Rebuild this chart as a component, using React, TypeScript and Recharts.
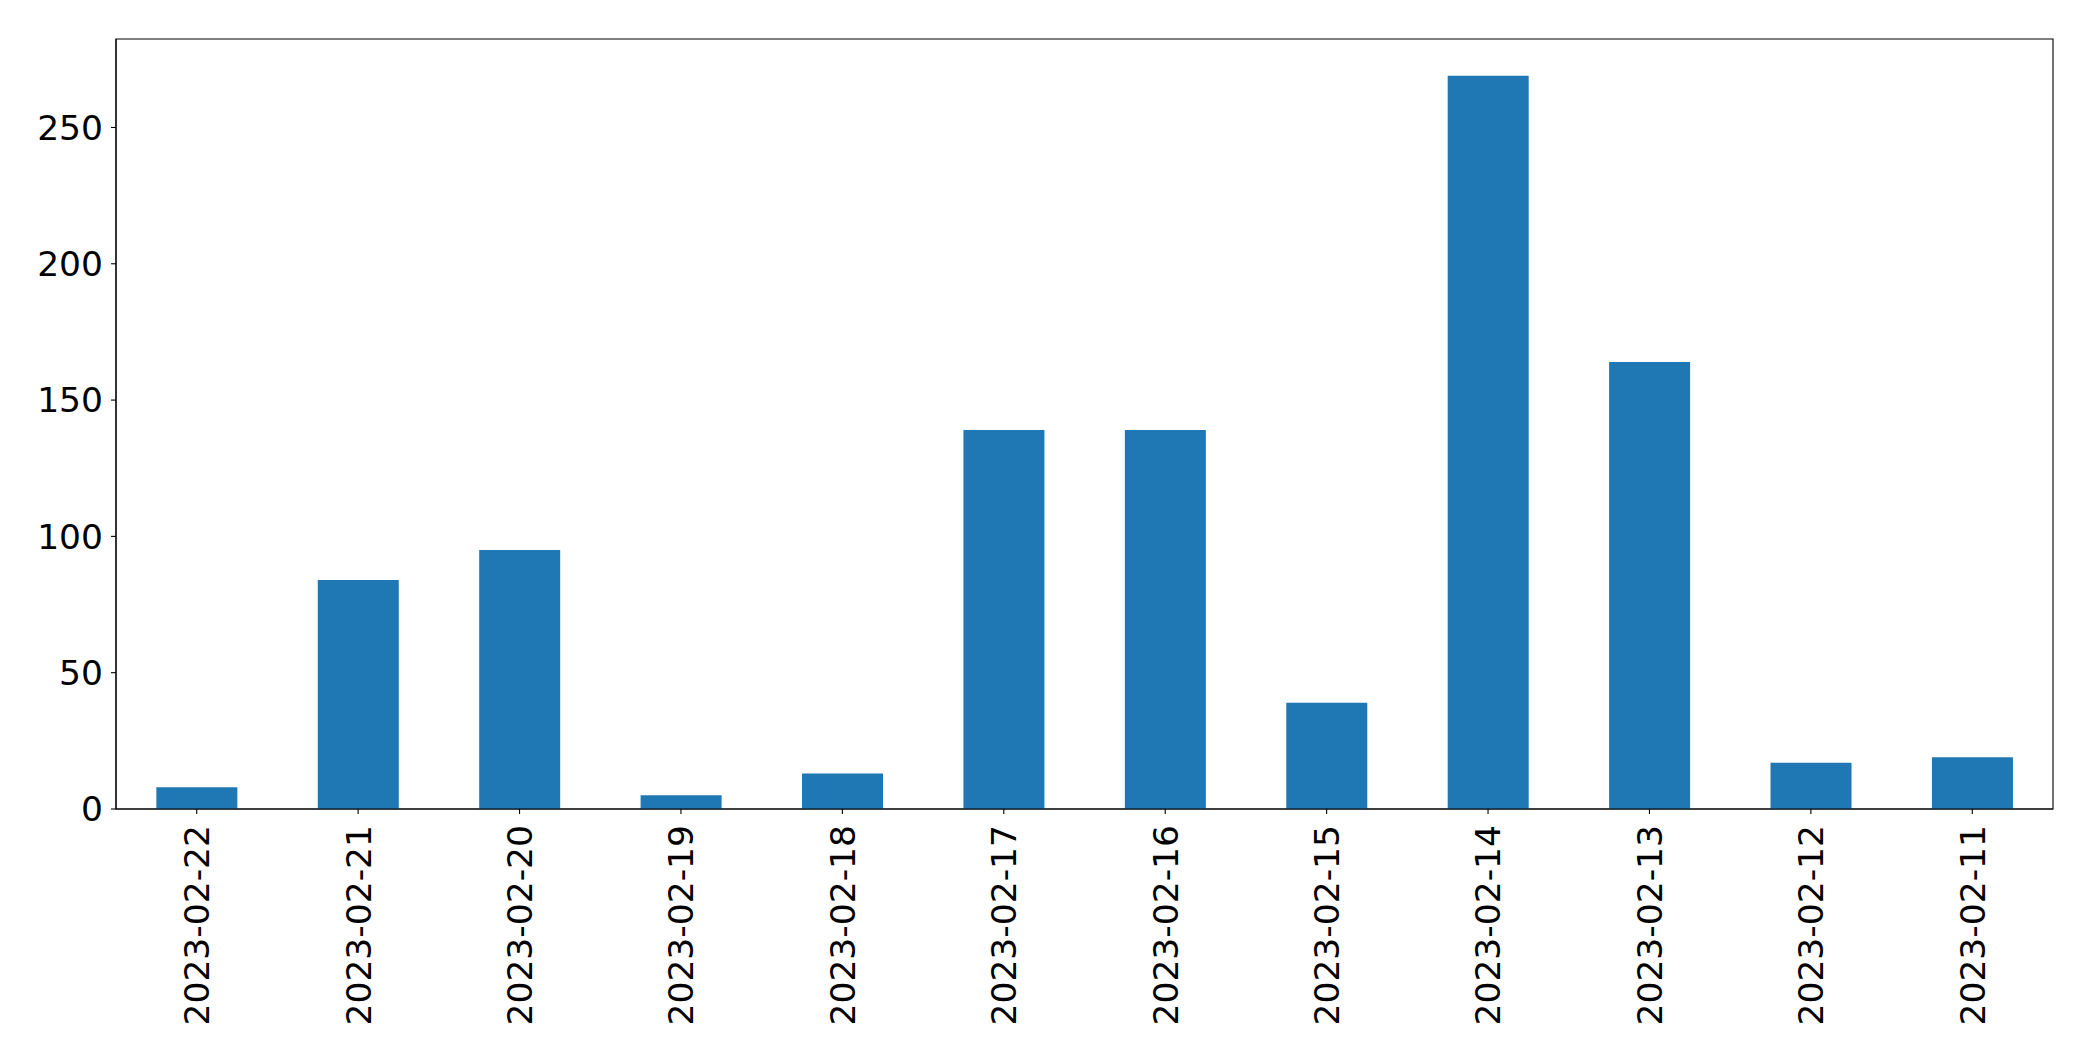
import React from 'react';
import { BarChart, Bar, XAxis, YAxis, ReferenceArea } from 'recharts';

// dates in the order shown (newest first) and the count per day
const dates = [
    '2023-02-22', '2023-02-21', '2023-02-20', '2023-02-19', '2023-02-18', '2023-02-17',
    '2023-02-16', '2023-02-15', '2023-02-14', '2023-02-13', '2023-02-12', '2023-02-11',
];
const counts = [8, 84, 95, 5, 13, 139, 139, 39, 269, 164, 17, 19];
const yTicks = [0, 50, 100, 150, 200, 250];
const yMax = 282.45;

const data = dates.map((date, i) => ({ date, count: counts[i] }));

const FONT = '"DejaVu Sans", sans-serif';
const FONT_SIZE = 34.5;

function RotatedTick(props: any) {
    const { x, y, payload } = props;
    return (
        <g transform={`translate(${x},${y})`}>
            <text
                transform="rotate(-90)"
                textAnchor="end"
                dy="0.36em"
                fill="#000"
                fontFamily={FONT}
                fontSize={FONT_SIZE}
            >
                {payload.value}
            </text>
        </g>
    );
}

export default function App() {
    return (
        <div style={{ position: 'absolute', left: 0, top: 0, background: '#fff' }}>
            <BarChart
                width={2093}
                height={1061}
                data={data}
                margin={{ top: 39, right: 40, bottom: 0, left: 0 }}
                barCategoryGap="25%"
            >
                <XAxis
                    dataKey="date"
                    height={252}
                    interval={0}
                    tick={<RotatedTick />}
                    tickSize={5}
                    tickMargin={11}
                    axisLine={{ stroke: '#000', strokeWidth: 1.1 }}
                    tickLine={{ stroke: '#000', strokeWidth: 1.1 }}
                />
                <YAxis
                    width={116}
                    domain={[0, yMax]}
                    ticks={yTicks}
                    tickSize={5}
                    tickMargin={8}
                    tick={{ fill: '#000', fontFamily: FONT, fontSize: FONT_SIZE }}
                    axisLine={{ stroke: '#000', strokeWidth: 1.1 }}
                    tickLine={{ stroke: '#000', strokeWidth: 1.1 }}
                />
                <Bar dataKey="count" fill="#1f77b4" isAnimationActive={false} />
                {/* frame around the plot area, like matplotlib's spines */}
                <ReferenceArea
                    y1={0}
                    y2={yMax}
                    fill="none"
                    fillOpacity={0}
                    stroke="#000"
                    strokeWidth={1.1}
                    ifOverflow="visible"
                />
            </BarChart>
        </div>
    );
}
